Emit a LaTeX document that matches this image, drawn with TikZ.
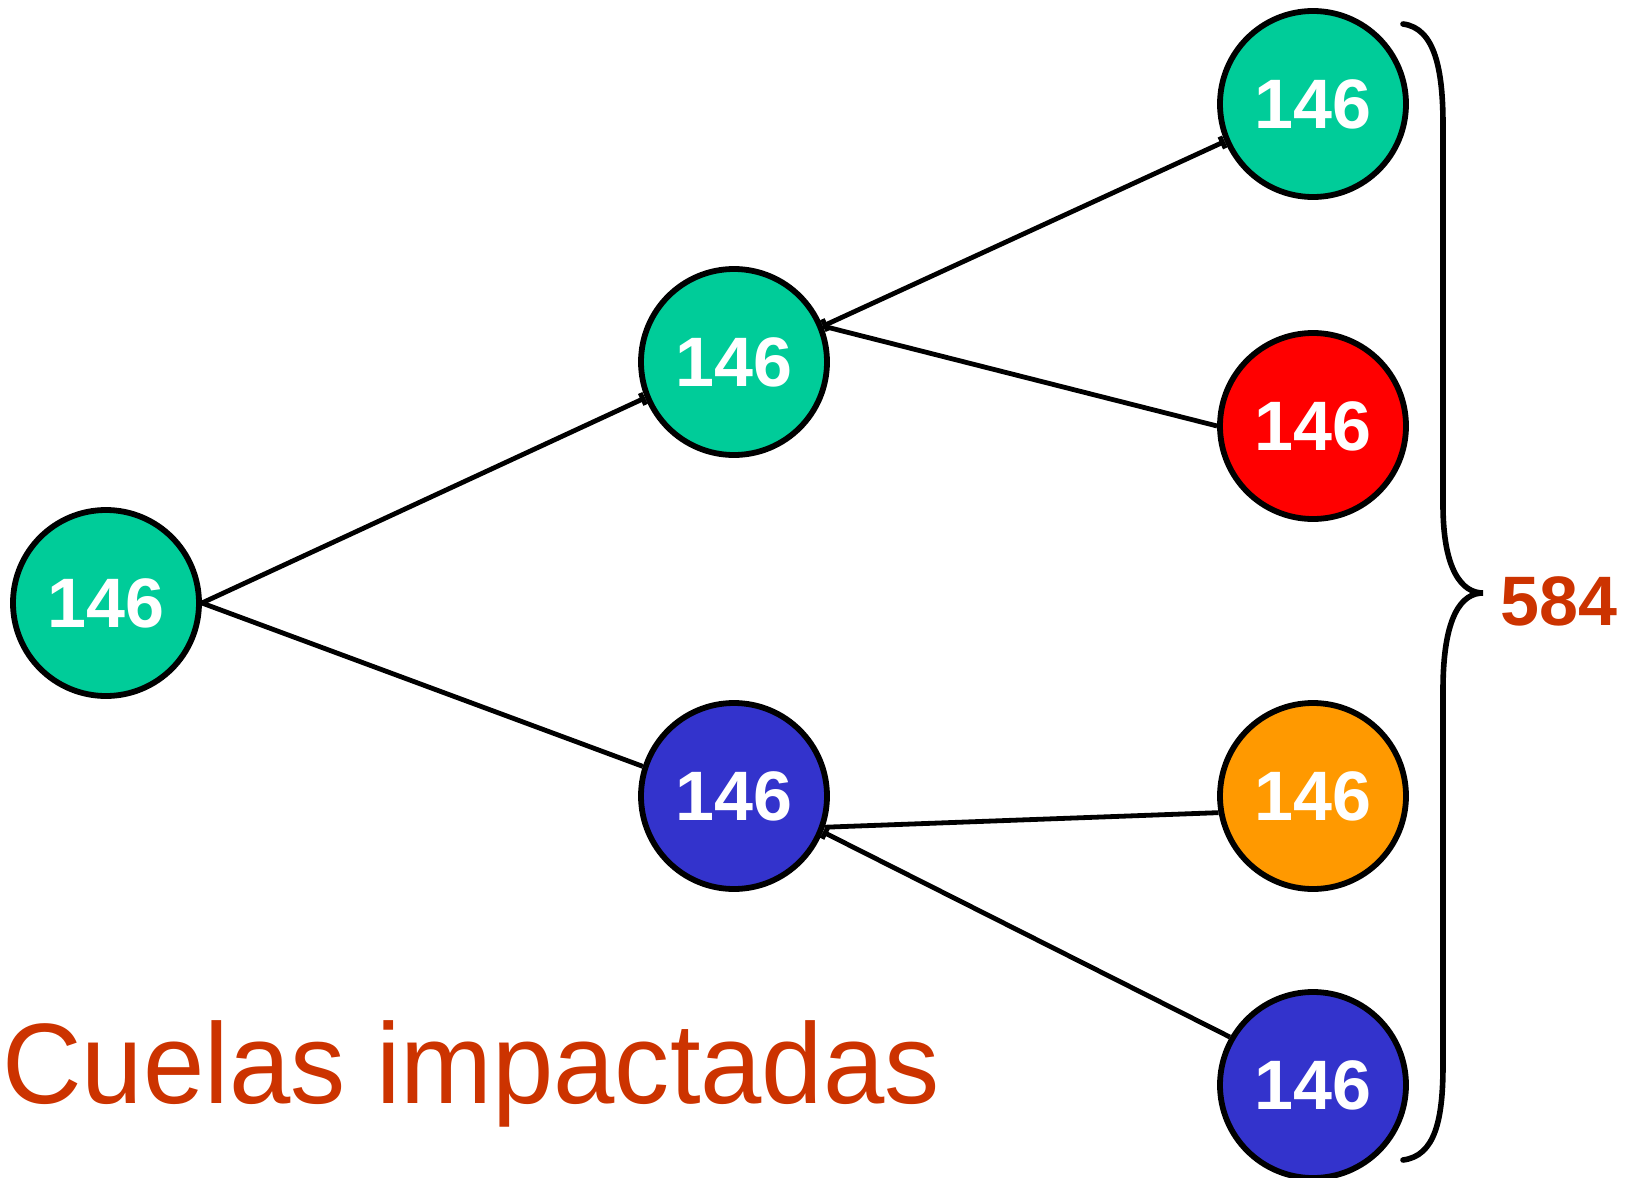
\documentclass[tikz,border=0pt]{standalone}
\usepackage{fontspec}
\usetikzlibrary{arrows.meta}
\setmainfont{Liberation Sans}
\definecolor{cgreen}{HTML}{00CC99}
\definecolor{cred}{HTML}{FF0000}
\definecolor{cblue}{HTML}{3333CC}
\definecolor{corange}{HTML}{FF9900}
\definecolor{ctext}{HTML}{CC3300}
\tikzset{endtick/.tip={Bar[width=6.5pt,line width=2.4pt]}}
\begin{document}
\begin{tikzpicture}[x=0.5pt,y=-0.5pt,
  ball/.style={circle,draw=black,line width=2.9pt,minimum size=93pt,inner sep=0pt,
    text=white,font=\fontsize{35}{35}\selectfont\bfseries},
  link/.style={draw=black,line width=2.4pt},
  bracepath/.style={draw=black,line width=2.8pt,line cap=round}]
\useasboundingbox (0,0) rectangle (1640,1178);
\node[ball,fill=cgreen] (root) at (106,603) {146};
\node[ball,fill=cgreen] (mt) at (734,362) {146};
\node[ball,fill=cblue] (mb) at (734,796) {146};
\node[ball,fill=cgreen] (r1) at (1313,104) {146};
\node[ball,fill=cred] (r2) at (1313,426) {146};
\node[ball,fill=corange] (r3) at (1313,796) {146};
\node[ball,fill=cblue] (r4) at (1313,1085) {146};

\draw[link,arrows={-endtick}] (root.east) -- (mt.202);
\draw[link] (root.east) -- (mb.162);
\draw[link,arrows={endtick-endtick}] (mt.22) -- (r1.203);
\draw[link] (mt.22) -- (r2.west);
\draw[link] (mb.-19) -- (r3.190);
\draw[link,arrows={endtick-}] (mb.-22) -- (r4.150);

\coordinate (btop) at (1403,24);
\coordinate (btip) at (1483,593);
\coordinate (bbot) at (1403,1160);
\draw[bracepath] (btop) .. controls (1435,28) and (1443,70) .. (1443,125)
  -- (1443,505) .. controls (1443,570) and (1462,593) .. (btip)
  .. controls (1462,593) and (1443,615) .. (1443,690)
  -- (1443,1065) .. controls (1443,1120) and (1435,1156) .. (bbot);

\node[anchor=west,text=ctext,font=\fontsize{35}{35}\selectfont\bfseries,inner sep=0pt] (sum) at (1500,601) {584};
\node[anchor=base west,text=ctext,font=\fontsize{52}{52}\selectfont,inner sep=0pt] (label) at (2,1103) {\scalebox{1.06}[1.1]{Cuelas impactadas}};
\end{tikzpicture}
\end{document}
